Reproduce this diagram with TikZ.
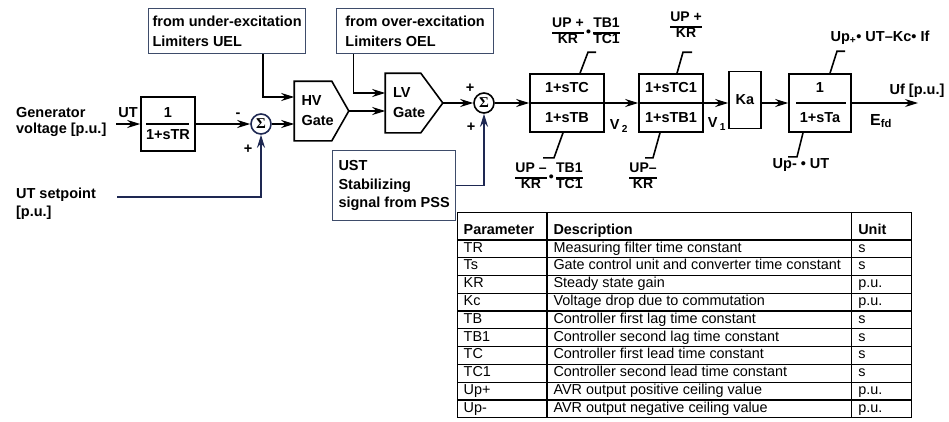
\documentclass[tikz,border=0pt]{standalone}
\usepackage{fontspec}
\setmainfont{Liberation Sans}
\newfontfamily\sigmafont{Liberation Serif}
\usepackage{amsmath}
\usetikzlibrary{arrows.meta}

\definecolor{framecol}{RGB}{62,76,106}
\definecolor{wirecol}{RGB}{30,40,82}

% small fraction with a bar, used for the limiter values
\newcommand{\limfrac}[2]{{\setlength{\tabcolsep}{0pt}\setlength{\arrayrulewidth}{1.2pt}%
  \renewcommand{\arraystretch}{0.92}\begin{tabular}{c}#1\\\hline #2\end{tabular}}}

\begin{document}
\begin{tikzpicture}[x=1pt, y=-1pt, line width=1.6pt,
    >={Stealth[length=13pt,width=8pt]},
    every node/.style={font=\fontsize{14.5}{16}\selectfont\bfseries},
    block/.style={draw, inner sep=0pt, align=center, minimum height=58pt},
    infobox/.style={draw=framecol, line width=1.2pt, align=left, anchor=north west, inner xsep=4pt},
    gate/.style={inner sep=0pt, align=left, minimum height=58pt, font=\fontsize{14.5}{20}\selectfont\bfseries},
    sumnode/.style={circle, draw, minimum size=20pt, inner sep=0pt, font=\sigmafont\fontsize{15}{16}\selectfont\bfseries},
    thinwire/.style={line width=1.2pt}]
    \useasboundingbox (0,0) rectangle (949,421);

    % inputs
    \node[align=left, anchor=west, font=\fontsize{14.5}{15.5}\selectfont\bfseries] (gen) at (12,122) {Generator\\voltage [p.u.]};
    \node[align=left, anchor=west, font=\fontsize{14.5}{18}\selectfont\bfseries] (setp) at (12,204) {UT setpoint\\{[p.u.]}};
    \coordinate (genin) at (116,124);
    \coordinate (setout) at (117,197);
    \node (utlab) at (128,113) {UT};

    % measuring filter and first summing point
    \node[block, minimum width=54pt, minimum height=54pt, font=\fontsize{14.5}{22}\selectfont\bfseries] (tr) at (168,124) {1\\1+sTR};
    \draw[line width=1.2pt] ([xshift=6pt]tr.west) -- ([xshift=-7pt]tr.east);
    \node[sumnode, draw=wirecol] (s1) at (261,124) {Σ};
    \node (s1m) at (238,115) {-};
    \node (s1p) at (248,149) {+};

    % limiter inputs
    \node[infobox, minimum width=156pt, minimum height=45pt, font=\fontsize{14.5}{20}\selectfont\bfseries] (uel) at (148,8) {from under-excitation\\Limiters UEL};
    \node[infobox, minimum width=157pt, minimum height=45pt, font=\fontsize{14.5}{20}\selectfont\bfseries] (oel) at (336,8) {from over-excitation\\Limiters OEL};
    \node[infobox, minimum width=123pt, minimum height=70pt, font=\fontsize{14.5}{18.5}\selectfont\bfseries] (ust) at (332,150) {UST\\Stabilizing\\signal from PSS};

    % gates
    \node[gate, minimum width=53pt, text width=40pt] (hv) at (321.5,111) {HV\\Gate};
    \draw (hv.north west) -- ([xshift=-17pt]hv.north east) -- (hv.east) -- ([xshift=-17pt]hv.south east) -- (hv.south west) -- cycle;
    \node[gate, minimum width=56pt, text width=42pt] (lv) at (414,103) {LV\\Gate};
    \draw (lv.north west) -- ([xshift=-22pt]lv.north east) -- (lv.east) -- ([xshift=-22pt]lv.south east) -- (lv.south west) -- cycle;

    % second summing point
    \node[sumnode] (s2) at (484,103) {Σ};
    \node (s2pa) at (470,88) {+};
    \node (s2pb) at (471,127) {+};

    % controller
    \node[block, minimum width=74pt, font=\fontsize{14.5}{30}\selectfont\bfseries] (tc) at (567,103) {1+sTC\\1+sTB};
    \draw[line width=1.1pt] (tc.west) -- (tc.east);
    \node[block, minimum width=64pt, font=\fontsize{14.5}{30}\selectfont\bfseries] (tc1) at (671,103) {1+sTC1\\1+sTB1};
    \draw[line width=1.1pt] (tc1.west) -- (tc1.east);
    \node[block, minimum width=32pt, minimum height=57pt] (ka) at (745,100) {Ka};
    \node[block, minimum width=62pt, font=\fontsize{14.5}{30}\selectfont\bfseries] (ta) at (820,103) {1\\1+sTa};
    \draw[line width=1.2pt] ([xshift=8pt]ta.west) -- ([xshift=-6pt]ta.east);
    \coordinate (ufout) at (918,103);

    % limits
    \draw ([xshift=13pt]tc.north) -- ++(8,-21) -- ++(8,0);
    \draw ([xshift=-4pt]tc.south) -- ++(-9,25) -- ++(-11,0);
    \draw ([xshift=6pt]tc1.north) -- ++(6,-21) -- ++(9,0);
    \draw ([xshift=-11pt]tc1.south) -- ++(-7,25) -- ++(-8,0);
    \draw ([xshift=10pt]ta.north) -- ++(7,-22) -- ++(8,0);
    \draw ([xshift=-17pt]ta.south) -- ++(-6,24) -- ++(-9,0);
    \node[font=\fontsize{14}{16}\selectfont\bfseries] (tcmax) at (586,33) {\limfrac{UP +}{KR}\,\textbullet\,\limfrac{TB1}{TC1}};
    \node[font=\fontsize{14}{16}\selectfont\bfseries] (tcmin) at (549,178) {\limfrac{UP –}{KR}\,\textbullet\,\limfrac{TB1}{TC1}};
    \node[font=\fontsize{14}{16}\selectfont\bfseries] (tc1max) at (686,27) {\limfrac{UP +}{KR}};
    \node[font=\fontsize{14}{16}\selectfont\bfseries] (tc1min) at (643,178) {\limfrac{UP–}{KR}};
    \node (tamax) at (880,38) {Up\textsubscript{+}\textbullet\ UT–Kc\textbullet\ If};
    \node (tamin) at (801,165) {Up- \textbullet\ UT};

    % signal labels
    \node (v2) at (619,126) {V\,\textsubscript{2}};
    \node (v1) at (717,124) {V\,\textsubscript{1}};
    \node[font=\fontsize{16}{18}\selectfont\bfseries] (efd) at (881,121) {E\textsubscript{fd}};
    \node (uf) at (917,91) {Uf [p.u.]};

    % connectors
    \draw[->] (genin) -- (tr.west);
    \draw[->] (tr.east) -- (s1.west);
    \draw[->, wirecol] (setout) -| (s1.south);
    \draw[->] ([xshift=36pt]uel.south) |- ([yshift=14pt]hv.west);
    \draw[->] (s1.east) -- (s1.east -| hv.west);
    \draw[->] ([xshift=-61.5pt]oel.south) |- ([yshift=10pt]lv.west);
    \draw[->] (hv.east) -- (hv.east -| lv.west);
    \draw[->] (lv.east) -- (s2.west);
    \draw[->, wirecol] (ust.east) -| (s2.south);
    \draw[->] (s2.east) -- (tc.west);
    \draw[->, thinwire] (tc.east) -- (tc1.west);
    \draw[->, thinwire] (tc1.east) -- (tc1.east -| ka.west);
    \draw[->, thinwire] (ka.east |- ta.west) -- (ta.west);
    \draw[->, thinwire] (ta.east) -- (ufout);

    % parameter table
    \node[anchor=north west, inner sep=0pt, font=\fontsize{14.4}{17}\selectfont\mdseries] (partab) at (456.4,211.4) {%
      \setlength{\arrayrulewidth}{1.2pt}\setlength{\tabcolsep}{6.5pt}\renewcommand{\arraystretch}{0.975}%
      \begin{tabular}{|p{76.8pt}|p{291.8pt}|p{46.8pt}|}
        \hline
        \rule{0pt}{21pt}\textbf{Parameter} & \textbf{Description} & \textbf{Unit}\\ \hline
        TR & Measuring filter time constant & s\\ \hline
        Ts & Gate control unit and converter time constant & s\\ \hline
        KR & Steady state gain & p.u.\\ \hline
        Kc & Voltage drop due to commutation & p.u.\\ \hline
        TB & Controller first lag time constant & s\\ \hline
        TB1 & Controller second lag time constant & s\\ \hline
        TC & Controller first lead time constant & s\\ \hline
        TC1 & Controller second lead time constant & s\\ \hline
        Up+ & AVR output positive ceiling value & p.u.\\ \hline
        Up- & AVR output negative ceiling value & p.u.\\ \hline
      \end{tabular}};
\end{tikzpicture}
\end{document}
